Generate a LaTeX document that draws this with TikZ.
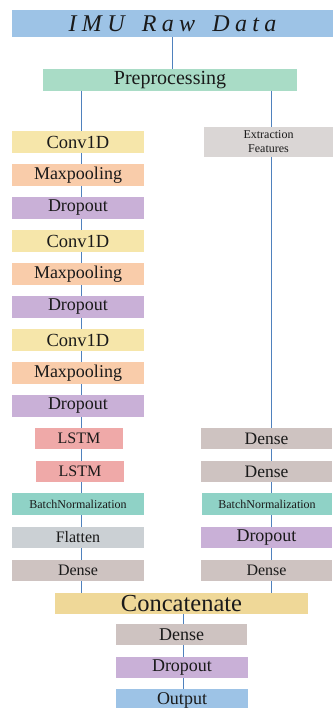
\documentclass[tikz,border=0pt]{standalone}
\usepackage{fontspec}
\setmainfont{Liberation Serif}
\definecolor{imublue}{HTML}{9DC3E6}
\definecolor{prepc}{HTML}{A9DCC6}
\definecolor{convc}{HTML}{F6E6AA}
\definecolor{maxpc}{HTML}{F9CCAA}
\definecolor{dropc}{HTML}{C9B0D7}
\definecolor{lstmc}{HTML}{EFA9A8}
\definecolor{bnc}{HTML}{8FD2C6}
\definecolor{flatc}{HTML}{CBD0D4}
\definecolor{densec}{HTML}{CEC3C1}
\definecolor{extrc}{HTML}{DAD6D5}
\definecolor{concc}{HTML}{EFD898}
\definecolor{linec}{HTML}{4F81BD}
\definecolor{txtc}{HTML}{1A1A1A}
\begin{document}
\begin{tikzpicture}[x=1pt,y=-1pt,
  box/.style={inner sep=0pt, outer sep=0pt, minimum height=22pt, text=txtc, align=center},
  lcol/.style={box, minimum width=132pt},
  rcol/.style={box, minimum width=131pt},
  fs/.style={font=\fontsize{#1}{#1}\selectfont},
  conn/.style={draw=linec, line width=1pt}]
\useasboundingbox (0,0) rectangle (333,708);
\coordinate (lx) at (81,0);
\coordinate (rx) at (271,0);
\coordinate (mx) at (172,0);
\coordinate (cx) at (183,0);
% top
\node[box, fill=imublue, minimum width=321pt, minimum height=27pt, font=\fontsize{24}{26}\selectfont\itshape\addfontfeature{LetterSpace=22}] (imu) at (172.5,24)
  {IMU\hspace{6pt} Raw\hspace{6pt} Data};
\node[box, fill=prepc, minimum width=254pt, fs=20] (pre) at (170,80) {Preprocessing};
% left column
\node[lcol, fill=convc, fs=18.5] (c1) at (78,142) {Conv1D};
\node[lcol, fill=maxpc, fs=18] (m1) at (78,175) {Maxpooling};
\node[lcol, fill=dropc, fs=18] (d1) at (78,208) {Dropout};
\node[lcol, fill=convc, fs=18.5] (c2) at (78,241) {Conv1D};
\node[lcol, fill=maxpc, fs=18] (m2) at (78,274) {Maxpooling};
\node[lcol, fill=dropc, fs=18] (d2) at (78,307) {Dropout};
\node[lcol, fill=convc, fs=18.5] (c3) at (78,340) {Conv1D};
\node[lcol, fill=maxpc, fs=18] (m3) at (78,373) {Maxpooling};
\node[lcol, fill=dropc, fs=18] (d3) at (78,406) {Dropout};
\node[box, fill=lstmc, minimum width=88pt, minimum height=21pt, fs=16] (l1) at (79,438.5) {LSTM};
\node[box, fill=lstmc, minimum width=88pt, minimum height=21pt, fs=16] (l2) at (80,471.5) {LSTM};
\node[lcol, fill=bnc, fs=12] (bn1) at (78,504) {BatchNormalization};
\node[lcol, fill=flatc, minimum height=21pt, fs=16] (fl) at (78,537.5) {Flatten};
\node[lcol, fill=densec, minimum height=21pt, fs=16] (dl) at (78,570.5) {Dense};
% right column
\node[box, fill=extrc, minimum width=129pt, minimum height=30pt, font=\fontsize{12}{14}\selectfont] (ex) at (268.5,142)
  {Extraction\\Features};
\node[rcol, fill=densec, minimum height=21pt, fs=17.5] (r1) at (266.5,438.5) {Dense};
\node[rcol, fill=densec, minimum height=21pt, fs=17.5] (r2) at (266.5,471.5) {Dense};
\node[box, fill=bnc, minimum width=130pt, fs=12] (bn2) at (267,504) {BatchNormalization};
\node[rcol, fill=dropc, minimum height=21pt, fs=18] (rd) at (266.5,537.5) {Dropout};
\node[rcol, fill=densec, minimum height=21pt, fs=16] (r3) at (266.5,570.5) {Dense};
% bottom
\node[box, fill=concc, minimum width=253pt, minimum height=21pt, fs=24.5] (cc) at (181.5,603.5) {Concatenate};
\node[box, fill=densec, minimum width=131pt, minimum height=21pt, fs=18] (bd) at (181.5,634.5) {Dense};
\node[box, fill=dropc, minimum width=132pt, minimum height=21pt, fs=18] (bdr) at (182,667.5) {Dropout};
\node[box, fill=imublue, minimum width=132pt, minimum height=22pt, fs=18] (out) at (182,700) {Output};
% connectors
\draw[conn] (imu.south -| mx) -- (pre.north -| mx);
\foreach \a/\b in {pre/c1,c1/m1,m1/d1,d1/c2,c2/m2,m2/d2,d2/c3,c3/m3,m3/d3,d3/l1,l1/l2,l2/bn1,bn1/fl,fl/dl,dl/cc}
  \draw[conn] (\a.south -| lx) -- (\b.north -| lx);
\foreach \a/\b in {pre/ex,ex/r1,r1/r2,r2/bn2,bn2/rd,rd/r3,r3/cc}
  \draw[conn] (\a.south -| rx) -- (\b.north -| rx);
\foreach \a/\b in {cc/bd,bd/bdr,bdr/out}
  \draw[conn] (\a.south -| cx) -- (\b.north -| cx);
\end{tikzpicture}
\end{document}
